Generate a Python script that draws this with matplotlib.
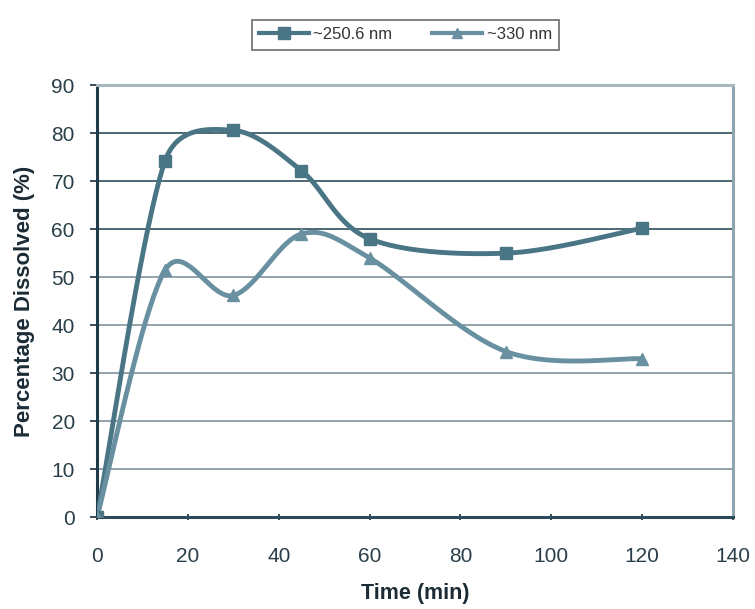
import numpy as np
import matplotlib
matplotlib.use("Agg")
import matplotlib.pyplot as plt

plt.rcParams['font.family'] = ['Liberation Sans', 'DejaVu Sans']

# dissolution data
time_min = [0, 15, 30, 45, 60, 90, 120]
diss_250 = [0, 74.3, 80.6, 72.2, 58, 55, 60.2]
diss_330 = [0, 51.5, 46.2, 59, 54, 34.5, 33]
series_labels = ['~250.6 nm', '~330 nm']
x_ticks = [0, 20, 40, 60, 80, 100, 120, 140]
y_ticks = [0, 10, 20, 30, 40, 50, 60, 70, 80, 90]


def excel_smooth(x, y, sx=4.54, sy=4.8, cap=0.5, n=40):
    """Catmull-Rom bezier (1/6 tangents) in pixel space, control arms capped
    to a share of the segment chord, close to Excel's smoothed line."""
    x = np.asarray(x, float) * sx
    y = np.asarray(y, float) * sy
    pts = np.column_stack([x, y])
    d = np.hypot(np.diff(x), np.diff(y))
    last = len(x) - 1

    def arm(v, seg):
        ln = np.hypot(*v)
        lim = cap * seg
        return v * (lim / ln) if ln > lim else v

    px, py = [], []
    t = np.linspace(0, 1, n)[:, None]
    for i in range(last):
        p1, p2 = pts[i], pts[i + 1]
        c1 = p1 + arm((p2 - pts[max(i - 1, 0)]) / 6, d[i])
        c2 = p2 - arm((pts[min(i + 2, last)] - p1) / 6, d[i])
        b = (1-t)**3*p1 + 3*(1-t)**2*t*c1 + 3*(1-t)*t**2*c2 + t**3*p2
        px.extend(b[:, 0])
        py.extend(b[:, 1])
    return np.array(px) / sx, np.array(py) / sy


fig = plt.figure(figsize=(7.55, 6.09), dpi=100)
ax = fig.add_axes([0.1285, 0.151, 0.8425, 0.709])

c1 = '#4a7585'
c2 = '#6890a0'

grid_cols = ['#8a9ca6', '#8a9ca6', '#8a9ca6', '#8a9ca6', '#8a9ca6',
             '#3f5d6b', '#3f5d6b', '#3f5d6b']
for yv, gc in zip(y_ticks[1:-1], grid_cols):
    ax.axhline(yv, color=gc, lw=1.3, zorder=1)

sx, sy = excel_smooth(time_min, diss_250)
ax.plot(sx, sy, color=c1, lw=3.5, zorder=3, solid_capstyle='round')
ax.plot(time_min, diss_250, ls='none', marker='s', ms=9, color=c1, zorder=4)
sx, sy = excel_smooth(time_min, diss_330)
ax.plot(sx, sy, color=c2, lw=3.5, zorder=3, solid_capstyle='round')
ax.plot(time_min, diss_330, ls='none', marker='^', ms=8, color=c2, zorder=4)

# legend proxies
h1, = ax.plot([], [], color=c1, lw=3, marker='s', ms=8)
h2, = ax.plot([], [], color=c2, lw=3, marker='^', ms=7)
leg = fig.legend([h1, h2], series_labels, loc='center', bbox_to_anchor=(0.537, 0.943),
                 ncol=2, frameon=True, fancybox=False, fontsize=12, handlelength=3.0,
                 columnspacing=2.4, borderpad=0.45, handletextpad=0.25)
leg.get_frame().set_edgecolor('#555555')
leg.get_frame().set_linewidth(1.3)
for t in leg.get_texts():
    t.set_color('#333333')

ax.set_xlim(0, 140)
ax.set_ylim(0, 90)
ax.set_xticks(x_ticks)
ax.set_yticks(y_ticks)
ax.tick_params(axis='both', labelsize=15, colors='#2a3f4a', length=5, width=1.3)
ax.tick_params(axis='x', direction='inout', pad=19)
ax.tick_params(axis='y', direction='out', pad=11)

ax.spines['left'].set_color('#1f3a48')
ax.spines['left'].set_linewidth(2.2)
ax.spines['bottom'].set_color('#2c4a58')
ax.spines['bottom'].set_linewidth(2.2)
ax.spines['right'].set_color('#8fa6b0')
ax.spines['right'].set_linewidth(2.2)
ax.spines['top'].set_color('#a8b8c0')
ax.spines['top'].set_linewidth(2.2)

ax.set_xlabel('Time (min)', fontsize=15.5, fontweight='bold', color='#1c2c36', labelpad=12)
ax.set_ylabel('Percentage Dissolved (%)', fontsize=16, fontweight='bold', color='#1c2c36', labelpad=12)

fig.savefig('out.png', dpi=100)
